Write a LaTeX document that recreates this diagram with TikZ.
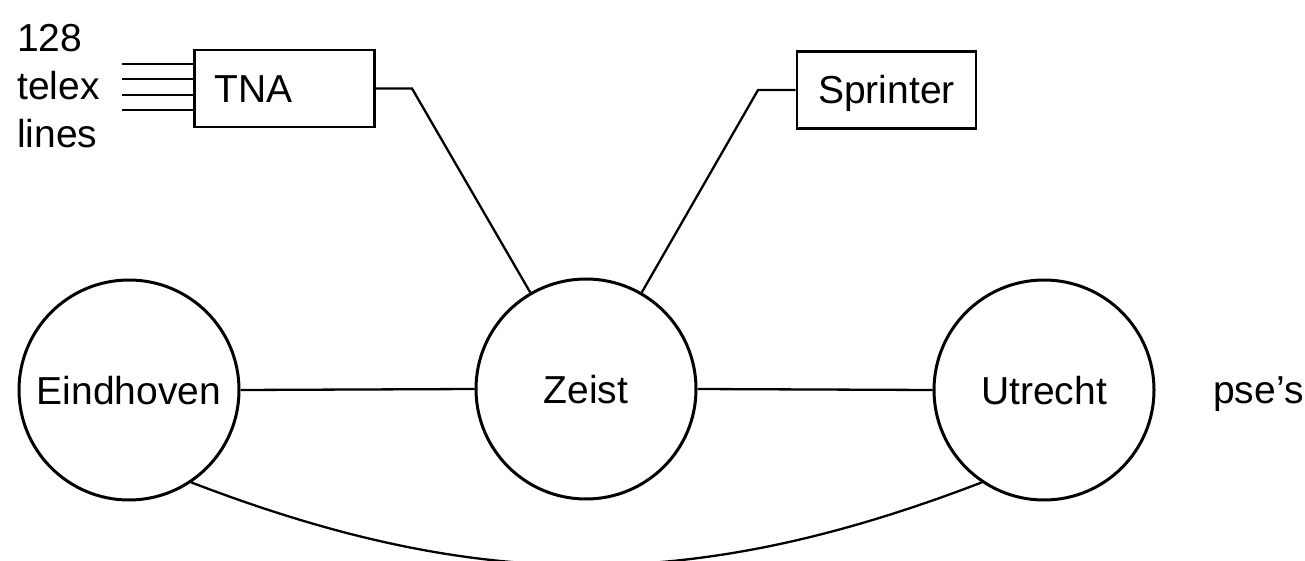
\documentclass[tikz,border=0pt]{standalone}
\usepackage{fontspec}
\setmainfont{Liberation Sans}
\begin{document}
\begin{tikzpicture}[x=1pt,y=1pt,
  site/.style={circle,draw,line width=3pt,minimum size=220pt,inner sep=0pt,text height=28pt,text depth=0pt,font=\fontsize{39}{47}\selectfont},
  unit/.style={rectangle,draw,line width=2.8pt,inner sep=0pt,minimum height=77pt,text height=28pt,text depth=0pt,font=\fontsize{39}{47}\selectfont},
  link/.style={line width=2.3pt},
  lbl/.style={inner sep=0pt,font=\fontsize{39}{47}\selectfont}]
\useasboundingbox (0,0) rectangle (1305,-561);
\fill[white] (0,0) rectangle (1305,-561);
% sites
\node[site] (E) at (129,-390) {Eindhoven};
\node[site] (Z) at (586,-389) {Zeist};
\node[site] (U) at (1044,-390) {Utrecht};
\node[lbl,anchor=base west] (pse) at (1213,-403) {pse’s};
% boxes
\node[unit,anchor=west,minimum width=180pt,text width=140pt,align=left,inner xsep=20pt] (TNA) at (193,-88.5) {TNA};
\node[unit,minimum width=179pt] (S) at (886.5,-90) {Sprinter};
% telex label
\node[lbl,anchor=base west] (l1) at (17,-52) {128};
\node[lbl,anchor=base west] (l2) at (17,-100) {telex};
\node[lbl,anchor=base west] (l3) at (17,-148) {lines};
% telex lines
\foreach \i/\yy in {1/-64,2/-79,3/-95,4/-110}{
  \coordinate (t\i) at (122,\yy);
  \draw[link] (t\i) -- (TNA.west |- t\i);
}
% connectors
\coordinate (tb) at (412,-88.5);
\coordinate (sb) at (758,-90);
\draw[link] (TNA.east) -- (tb) -- (Z.120);
\draw[link] (S.west) -- (sb) -- (Z.60);
\draw[link] (E.east) -- (Z.west);
\draw[link] (Z.east) -- (U.west);
\draw[link] (E.-56) to[bend right=21] (U.-124);
\end{tikzpicture}
\end{document}
